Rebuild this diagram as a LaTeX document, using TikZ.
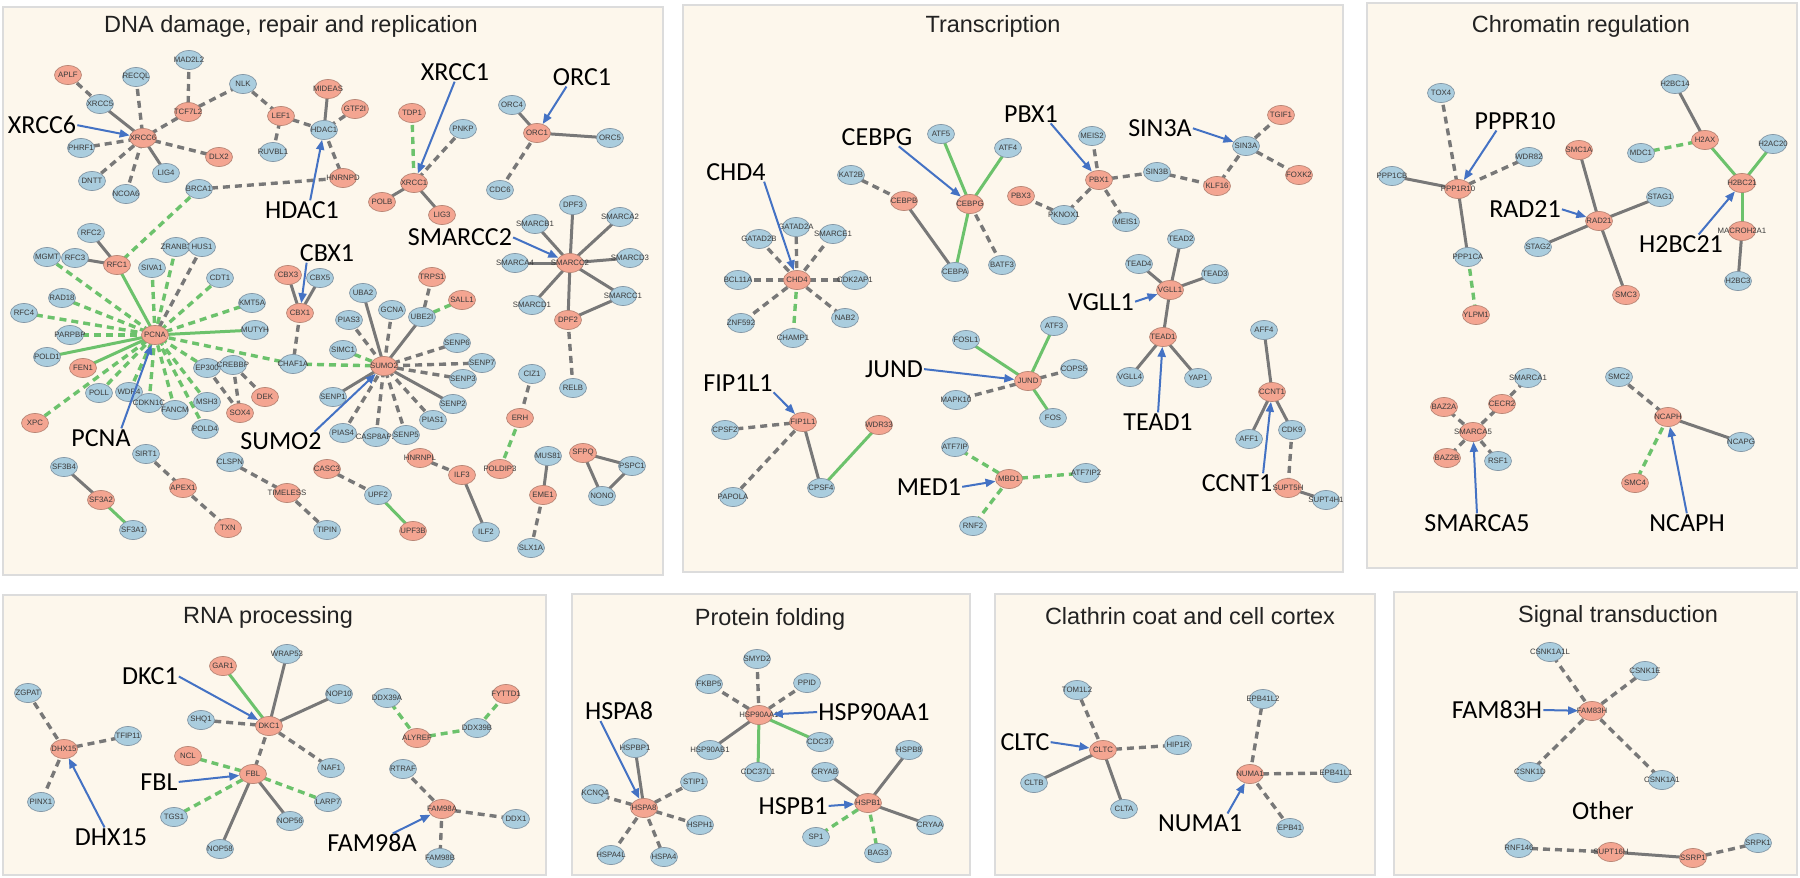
\documentclass[tikz,border=0pt]{standalone}
\usepackage{fontspec}
\setmainfont{Liberation Sans}
\newfontfamily\lblfont{Carlito}
\usetikzlibrary{shapes.geometric,arrows.meta}
\pgfdeclarelayer{bg}
\pgfdeclarelayer{edges}
\pgfsetlayers{bg,edges,main}
\definecolor{panelfill}{HTML}{FDF7EC}
\definecolor{panelline}{HTML}{DCDCDC}
\definecolor{bfill}{HTML}{AACDDE}
\definecolor{rfill}{HTML}{F4A591}
\definecolor{nline}{HTML}{8497A6}
\definecolor{rline}{HTML}{B88676}
\definecolor{ntext}{HTML}{3A3A3A}
\definecolor{egray}{HTML}{787878}
\definecolor{egreen}{HTML}{6CC26C}
\definecolor{ablue}{HTML}{4472C4}
\definecolor{titlec}{HTML}{222222}
\tikzset{
 bnode/.style={ellipse, draw=nline, line width=0.7pt, fill=bfill, minimum width=27pt, minimum height=19pt, inner sep=0pt, font=\fontsize{7.8}{8}\selectfont, text=ntext},
 rnode/.style={bnode, fill=rfill, draw=rline},
 grs/.style={draw=egray, line width=3pt},
 grd/.style={draw=egray, line width=3.4pt, dash pattern=on 7pt off 5pt},
 gns/.style={draw=egreen, line width=3pt},
 gnd/.style={draw=egreen, line width=3.4pt, dash pattern=on 7pt off 5pt},
 panel/.style={fill=panelfill, draw=panelline, line width=1.5pt},
 ptitle/.style={font=\fontsize{23.5}{26}\selectfont, text=titlec, anchor=base, inner sep=0pt},
 lab/.style={font=\lblfont\fontsize{26}{28}\selectfont, inner sep=0pt, text=black},
 larr/.style={draw=ablue, line width=2pt, -{Triangle[length=10pt,width=8pt]}, shorten <=1pt},
}
\newcommand{\nB}[2]{\node[bnode] (#1) at (#2) {\makebox[0pt]{#1}};}
\newcommand{\nR}[2]{\node[rnode] (#1) at (#2) {\makebox[0pt]{#1}};}
\newcommand{\eGS}[2]{\draw[grs] (#1.center) -- (#2.center);}
\newcommand{\eGD}[2]{\draw[grd] (#1.center) -- (#2.center);}
\newcommand{\eNS}[2]{\draw[gns] (#1.center) -- (#2.center);}
\newcommand{\eND}[2]{\draw[gnd] (#1.center) -- (#2.center);}
\begin{document}
\begin{tikzpicture}[x=1pt,y=-1pt]
\useasboundingbox (0,0) rectangle (1800,878);
\begin{pgfonlayer}{bg}
\fill[white] (0,0) rectangle (1800,878);
\draw[panel] (3,7) rectangle (663,575);
\draw[panel] (683,5) rectangle (1343,572);
\draw[panel] (1367,3) rectangle (1797,568);
\draw[panel] (3,595) rectangle (546,875);
\draw[panel] (572,594) rectangle (970,875);
\draw[panel] (995,594) rectangle (1375,875);
\draw[panel] (1394,592) rectangle (1797,875);
\end{pgfonlayer}
% titles
\node[ptitle] (tDNA) at (291,32) {DNA damage, repair and replication};
\node[ptitle] (tTR) at (993,32) {Transcription};
\node[ptitle] (tCH) at (1581,32) {Chromatin regulation};
\node[ptitle] (tRNA) at (268,623) {RNA processing};
\node[ptitle] (tPF) at (770,625) {Protein folding};
\node[ptitle] (tCL) at (1190,624) {Clathrin coat and cell cortex};
\node[ptitle] (tST) at (1618,622) {Signal transduction};
% ---------- DNA nodes
\nR{APLF}{68,75}
\nB{XRCC5}{100,104}
\nB{RECQL}{136,77}
\nB{MAD2L2}{189,60}
\nR{TCF7L2}{188,112}
\nB{NLK}{243,84}
\nR{LEF1}{281,116}
\nR{XRCC6}{143,138}
\nB{PHRF1}{81,148}
\nR{DLX2}{219,157}
\nB{RUVBL1}{273,152}
\nB{DNTT}{92,181}
\nB{LIG4}{166,173}
\nB{NCOA6}{126,194}
\nB{BRCA1}{199,189}
\nB{RFC2}{91,233}
\nB{ZRANB3}{176,247}
\nB{HUS1}{202,247}
\nR{MIDEAS}{328,89}
\nR{GTF2I}{355,109}
\nB{HDAC1}{324,130}
\nR{HNRNPD}{343,178}
\nR{TDP1}{412,113}
\nB{PNKP}{463,129}
\nR{XRCC1}{414,183}
\nR{POLB}{382,202}
\nR{LIG3}{442,215}
\nB{ORC4}{512,105}
\nR{ORC1}{537,133}
\nB{ORC5}{610,138}
\nB{CDC6}{500,190}
\nB{DPF3}{573,205}
\nB{SMARCB1}{535,224}
\nB{SMARCA2}{620,217}
\nB{SMARCA4}{515,263}
\nR{SMARCC2}{570,263}
\nB{SMARCD3}{630,258}
\nB{SMARCC1}{623,296}
\nB{SMARCD1}{532,305}
\nR{DPF2}{568,320}
\nB{RELB}{573,388}
\nB{MGMT}{47,257}
\nB{RFC3}{75,258}
\nR{RFC1}{117,265}
\nB{SIVA1}{152,268}
\nB{CDT1}{220,278}
\nB{RAD18}{62,298}
\nB{KMT5A}{252,303}
\nB{RFC4}{24,313}
\nB{PARPBP}{70,335}
\nR{PCNA}{155,335}
\nB{MUTYH}{255,330}
\nB{POLD1}{47,357}
\nR{FEN1}{83,368}
\nB{EP300}{207,368}
\nB{CREBBP}{233,365}
\nB{CHAF1A}{293,364}
\nB{POLL}{99,393}
\nB{WDR4}{129,392}
\nB{CDKN1C}{149,403}
\nB{FANCM}{175,410}
\nB{MSH3}{207,402}
\nR{DEK}{265,397}
\nR{SOX4}{240,413}
\nB{POLD4}{205,429}
\nR{XPC}{35,423}
\nB{SIRT1}{146,454}
\nB{CLSPN}{230,462}
\nB{SF3B4}{64,467}
\nR{APEX1}{183,488}
\nR{TIMELESS}{287,493}
\nR{SF3A2}{101,500}
\nB{SF3A1}{133,530}
\nR{TXN}{228,528}
\nB{TIPIN}{327,530}
\nR{CBX3}{288,275}
\nB{CBX5}{320,278}
\nR{CBX1}{300,313}
\nB{UBA2}{363,293}
\nR{TRPS1}{432,277}
\nR{SALL1}{462,300}
\nB{GCNA}{392,310}
\nB{PIAS3}{349,320}
\nB{UBE2I}{422,317}
\nB{SIMC1}{343,350}
\nB{SENP6}{457,343}
\nR{SUMO2}{384,366}
\nB{SENP7}{482,363}
\nB{SENP3}{463,379}
\nB{SENP1}{333,397}
\nB{SENP2}{453,404}
\nB{PIAS1}{433,420}
\nB{PIAS4}{343,433}
\nB{CASP8AP2}{376,437}
\nB{SENP5}{406,435}
\nB{CIZ1}{532,374}
\nR{ERH}{520,418}
\nR{HNRNPL}{420,458}
\nR{ILF3}{462,475}
\nR{POLDIP3}{500,469}
\nB{MUS81}{548,456}
\nR{EME1}{543,495}
\nB{SLX1A}{531,548}
\nR{CASC3}{327,469}
\nB{UPF2}{378,495}
\nR{UPF3B}{413,531}
\nB{ILF2}{486,532}
\nR{SFPQ}{583,453}
\nB{PSPC1}{632,466}
\nB{NONO}{602,496}
% ---------- Transcription nodes
\nB{KAT2B}{851,175}
\nB{GATAD2A}{796,227}
\nB{GATAD2B}{759,239}
\nB{SMARCE1}{833,234}
\nB{BCL11A}{738,280}
\nR{CHD4}{797,280}
\nB{CDK2AP1}{855,280}
\nB{ZNF592}{741,323}
\nB{NAB2}{845,318}
\nB{CHAMP1}{793,338}
\nR{FIP1L1}{803,422}
\nB{CPSF2}{725,430}
\nR{WDR33}{879,425}
\nB{CPSF4}{821,488}
\nB{PAPOLA}{733,497}
\nB{ATF5}{941,134}
\nB{ATF4}{1008,148}
\nR{CEBPB}{904,201}
\nR{CEBPG}{970,204}
\nB{CEBPA}{955,272}
\nB{BATF3}{1002,265}
\nB{MEIS2}{1092,136}
\nR{PBX1}{1099,180}
\nB{SIN3B}{1157,172}
\nR{PBX3}{1021,196}
\nB{PKNOX1}{1064,215}
\nB{MEIS1}{1126,222}
\nR{TGIF1}{1281,115}
\nB{SIN3A}{1246,146}
\nR{FOXK2}{1299,175}
\nR{KLF16}{1217,186}
\nB{TEAD2}{1181,239}
\nB{TEAD4}{1139,264}
\nB{TEAD3}{1215,274}
\nR{VGLL1}{1170,290}
\nR{TEAD1}{1163,337}
\nB{VGLL4}{1130,377}
\nB{YAP1}{1198,378}
\nB{FOSL1}{966,340}
\nB{ATF3}{1054,326}
\nB{COPS5}{1074,369}
\nR{JUND}{1028,381}
\nB{MAPK10}{956,400}
\nB{FOS}{1053,418}
\nB{ATF7IP}{955,447}
\nR{MBD1}{1009,479}
\nB{ATF7IP2}{1086,473}
\nB{RNF2}{973,526}
\nB{AFF4}{1264,330}
\nR{CCNT1}{1272,392}
\nB{AFF1}{1249,439}
\nB{CDK9}{1292,430}
\nR{SUPT5H}{1288,488}
\nB{SUPT4H1}{1326,500}
% ---------- Chromatin nodes
\nB{TOX4}{1441,93}
\nB{PPP1CB}{1392,176}
\nR{PPP1R10}{1458,189}
\nB{WDR82}{1529,157}
\nB{PPP1CA}{1468,257}
\nR{YLPM1}{1476,315}
\nR{SMC1A}{1579,150}
\nB{STAG1}{1660,197}
\nR{RAD21}{1599,221}
\nB{STAG2}{1538,247}
\nR{SMC3}{1626,295}
\nB{H2BC14}{1675,84}
\nB{MDC1}{1641,153}
\nR{H2AX}{1705,140}
\nB{H2AC20}{1773,144}
\nR{H2BC21}{1742,183}
\nR{MACROH2A1}{1742,231}
\nB{H2BC3}{1738,281}
\nR{BAZ2A}{1444,407}
\nR{SMARCA5}{1473,432}
\nR{BAZ2B}{1447,458}
\nB{RSF1}{1498,461}
\nR{CECR2}{1502,404}
\nB{SMARCA1}{1528,378}
\nB{SMC2}{1619,377}
\nR{NCAPH}{1668,417}
\nB{NCAPG}{1741,442}
\nR{SMC4}{1635,483}
% ---------- RNA nodes
\nB{ZGPAT}{28,693}
\nR{DHX15}{64,749}
\nB{TFIP11}{128,736}
\nB{PINX1}{41,802}
\nR{GAR1}{223,666}
\nB{WRAP53}{287,654}
\nB{NOP10}{339,694}
\nB{SHQ1}{201,720}
\nR{DKC1}{269,726}
\nR{NCL}{188,756}
\nR{FBL}{253,774}
\nB{NAF1}{331,768}
\nB{LARP7}{328,802}
\nB{TGS1}{174,817}
\nB{NOP56}{290,821}
\nB{NOP58}{220,849}
\nB{DDX39A}{387,698}
\nR{ALYREF}{417,738}
\nB{DDX39B}{477,728}
\nR{FYTTD1}{506,694}
\nB{RTRAF}{403,769}
\nR{FAM98A}{442,809}
\nB{FAM98B}{440,858}
\nB{DDX1}{516,819}
% ---------- Protein folding nodes
\nB{SMYD2}{757,659}
\nB{FKBP5}{709,684}
\nB{PPID}{807,683}
\nR{HSP90AA1}{759,715}
\nB{HSP90AB1}{710,750}
\nB{CDC37}{820,742}
\nB{CDC37L1}{758,772}
\nB{CRYAB}{825,772}
\nB{HSPBP1}{635,748}
\nB{STIP1}{694,782}
\nB{KCNQ4}{595,794}
\nR{HSPA8}{644,808}
\nB{HSPH1}{700,825}
\nB{HSPA4L}{611,855}
\nB{HSPA4}{664,857}
\nB{HSPB8}{909,750}
\nR{HSPB1}{868,803}
\nB{CRYAA}{930,825}
\nB{SP1}{816,837}
\nB{BAG3}{878,853}
% ---------- Clathrin nodes
\nB{TOM1L2}{1077,690}
\nR{CLTC}{1103,750}
\nB{HIP1R}{1178,745}
\nB{CLTB}{1034,783}
\nB{CLTA}{1124,809}
\nB{EPB41L2}{1263,699}
\nR{NUMA1}{1250,774}
\nB{EPB41L1}{1336,773}
\nB{EPB41}{1290,828}
% ---------- Signal nodes
\nB{CSNK1A1L}{1550,652}
\nB{CSNK1E}{1645,671}
\nR{FAM83H}{1592,711}
\nB{CSNK1D}{1530,772}
\nB{CSNK1A1}{1662,780}
\nB{RNF146}{1519,848}
\nR{SUPT16H}{1611,852}
\nR{SSRP1}{1693,858}
\nB{SRPK1}{1758,843}
% ---------- edges
\begin{pgfonlayer}{edges}
\eGD{APLF}{XRCC5} \eGS{XRCC5}{XRCC6} \eGD{RECQL}{XRCC6} \eGD{TCF7L2}{XRCC6}
\eGD{MAD2L2}{TCF7L2} \eGD{TCF7L2}{NLK} \eGD{NLK}{LEF1} \eGD{RUVBL1}{LEF1}
\eGD{LEF1}{HDAC1} \eGD{PHRF1}{XRCC6} \eGD{DLX2}{XRCC6} \eGS{LIG4}{XRCC6}
\eGD{DNTT}{XRCC6} \eGD{NCOA6}{XRCC6} \eGD{BRCA1}{HNRNPD} \eND{BRCA1}{RFC1}
\eGS{MIDEAS}{HDAC1} \eGD{GTF2I}{HDAC1} \eGD{HDAC1}{HNRNPD}
\eND{TDP1}{XRCC1} \eGD{PNKP}{XRCC1} \eGS{POLB}{XRCC1} \eGS{LIG3}{XRCC1}
\eGS{ORC4}{ORC1} \eGS{ORC1}{ORC5} \eGD{ORC1}{CDC6}
\eGS{SMARCB1}{SMARCC2} \eGS{DPF3}{SMARCC2} \eGS{SMARCA2}{SMARCC2} \eGS{SMARCA4}{SMARCC2}
\eGS{SMARCD3}{SMARCC2} \eGS{SMARCC1}{SMARCC2} \eGS{SMARCD1}{SMARCC2} \eGS{DPF2}{SMARCC2}
\eGS{SMARCC1}{DPF2} \eGD{DPF2}{RELB}
\eGS{RFC2}{RFC1} \eGS{RFC3}{RFC1} \eNS{RFC1}{PCNA}
\eND{MGMT}{PCNA} \eND{RAD18}{PCNA} \eND{RFC4}{PCNA} \eND{PARPBP}{PCNA} \eND{SIVA1}{PCNA}
\eND{ZRANB3}{PCNA} \eND{CDT1}{PCNA} \eND{KMT5A}{PCNA} \eND{CHAF1A}{PCNA} \eND{EP300}{PCNA}
\eND{POLL}{PCNA} \eND{WDR4}{PCNA} \eND{CDKN1C}{PCNA} \eND{FANCM}{PCNA} \eND{MSH3}{PCNA}
\eND{POLD4}{PCNA} \eND{XPC}{PCNA}
\eNS{POLD1}{PCNA} \eNS{FEN1}{PCNA} \eNS{MUTYH}{PCNA} \eGD{HUS1}{PCNA}
\eGD{EP300}{SOX4} \eGD{CREBBP}{SOX4} \eGD{CREBBP}{DEK}
\eGD{SIRT1}{APEX1} \eGD{APEX1}{TXN} \eGS{SF3B4}{SF3A2} \eNS{SF3A2}{SF3A1}
\eGD{CLSPN}{TIMELESS} \eGD{TIMELESS}{TIPIN}
\eGS{CBX3}{CBX1} \eGS{CBX5}{CBX1} \eGD{CBX1}{CHAF1A} \eND{CHAF1A}{SUMO2}
\eGS{UBA2}{SUMO2} \eGD{PIAS3}{SUMO2} \eGD{GCNA}{SUMO2} \eGS{UBE2I}{SUMO2} \eND{SIMC1}{SUMO2}
\eGD{SENP6}{SUMO2} \eGD{SENP7}{SUMO2} \eGD{SENP3}{SUMO2} \eGS{SENP2}{SUMO2} \eGD{PIAS1}{SUMO2}
\eGD{SENP5}{SUMO2} \eGD{CASP8AP2}{SUMO2} \eGD{PIAS4}{SUMO2} \eGS{SENP1}{SUMO2}
\eGD{TRPS1}{UBE2I} \eND{SALL1}{UBE2I}
\eGD{CIZ1}{ERH} \eND{ERH}{POLDIP3} \eGD{HNRNPL}{ILF3} \eGS{ILF3}{ILF2}
\eGS{MUS81}{EME1} \eGD{EME1}{SLX1A} \eGD{CASC3}{UPF2} \eNS{UPF2}{UPF3B}
\eGS{SFPQ}{PSPC1} \eGS{SFPQ}{NONO} \eGS{PSPC1}{NONO}
% transcription
\eGD{CHD4}{GATAD2A} \eGD{CHD4}{GATAD2B} \eGD{CHD4}{SMARCE1} \eGD{CHD4}{BCL11A}
\eGD{CHD4}{CDK2AP1} \eGD{CHD4}{ZNF592} \eGD{CHD4}{NAB2} \eND{CHD4}{CHAMP1}
\eGD{FIP1L1}{CPSF2} \eGD{FIP1L1}{PAPOLA} \eGS{FIP1L1}{CPSF4} \eNS{CPSF4}{WDR33}
\eGD{KAT2B}{CEBPB} \eGS{CEBPB}{CEBPA} \eNS{CEBPG}{ATF5} \eNS{CEBPG}{ATF4}
\eNS{CEBPG}{CEBPA} \eGD{CEBPG}{BATF3}
\eGD{PBX1}{MEIS2} \eGD{PBX1}{SIN3B} \eGD{PBX1}{MEIS1} \eGD{PBX1}{PKNOX1}
\eGD{PKNOX1}{PBX3} \eGD{SIN3B}{KLF16}
\eGD{SIN3A}{TGIF1} \eGD{SIN3A}{FOXK2} \eGD{SIN3A}{KLF16}
\eGS{VGLL1}{TEAD2} \eGS{VGLL1}{TEAD3} \eGS{VGLL1}{TEAD4} \eGS{VGLL1}{TEAD1}
\eGS{TEAD1}{VGLL4} \eGS{TEAD1}{YAP1}
\eNS{JUND}{FOSL1} \eNS{JUND}{ATF3} \eNS{JUND}{FOS} \eGD{JUND}{COPS5} \eGD{JUND}{MAPK10}
\eND{MBD1}{ATF7IP} \eND{MBD1}{ATF7IP2} \eND{MBD1}{RNF2}
\eGS{CCNT1}{AFF4} \eGS{CCNT1}{AFF1} \eGS{CCNT1}{CDK9} \eGD{CDK9}{SUPT5H} \eGS{SUPT5H}{SUPT4H1}
% chromatin
\eGD{TOX4}{PPP1R10} \eGS{PPP1CB}{PPP1R10} \eGS{PPP1R10}{PPP1CA} \eND{PPP1CA}{YLPM1}
\eGD{PPP1R10}{WDR82}
\eGS{RAD21}{SMC1A} \eGS{RAD21}{STAG1} \eGS{RAD21}{STAG2} \eGS{RAD21}{SMC3}
\eGS{H2BC14}{H2AX} \eND{MDC1}{H2AX} \eNS{H2AX}{H2BC21} \eNS{H2AC20}{H2BC21}
\eNS{H2BC21}{MACROH2A1} \eGS{MACROH2A1}{H2BC3}
\eGD{SMARCA5}{BAZ2A} \eGD{SMARCA5}{BAZ2B} \eGD{SMARCA5}{RSF1} \eGD{SMARCA5}{CECR2}
\eGD{CECR2}{SMARCA1}
\eGD{SMC2}{NCAPH} \eGS{NCAPH}{NCAPG} \eND{NCAPH}{SMC4}
% RNA
\eGD{DHX15}{ZGPAT} \eGD{DHX15}{TFIP11} \eGD{DHX15}{PINX1}
\eNS{DKC1}{GAR1} \eGS{DKC1}{WRAP53} \eGS{DKC1}{NOP10} \eGD{DKC1}{SHQ1} \eGD{DKC1}{NAF1}
\eGD{DKC1}{FBL}
\eND{FBL}{NCL} \eND{FBL}{LARP7} \eND{FBL}{TGS1} \eGS{FBL}{NOP56} \eGS{FBL}{NOP58}
\eND{ALYREF}{DDX39A} \eND{ALYREF}{DDX39B} \eND{DDX39B}{FYTTD1}
\eGD{FAM98A}{RTRAF} \eGD{FAM98A}{FAM98B} \eGD{FAM98A}{DDX1}
% protein folding
\eGD{HSP90AA1}{SMYD2} \eGD{HSP90AA1}{FKBP5} \eGD{HSP90AA1}{PPID} \eGS{HSP90AA1}{HSP90AB1}
\eNS{HSP90AA1}{CDC37} \eNS{HSP90AA1}{CDC37L1}
\eGS{HSPA8}{HSPBP1} \eGD{HSPA8}{STIP1} \eGD{HSPA8}{KCNQ4} \eGD{HSPA8}{HSPH1}
\eGD{HSPA8}{HSPA4L} \eGD{HSPA8}{HSPA4}
\eGS{HSPB1}{CRYAB} \eGS{HSPB1}{HSPB8} \eGS{HSPB1}{CRYAA} \eND{HSPB1}{SP1} \eND{HSPB1}{BAG3}
% clathrin
\eGD{CLTC}{TOM1L2} \eGD{CLTC}{HIP1R} \eGS{CLTC}{CLTB} \eGS{CLTC}{CLTA}
\eGD{NUMA1}{EPB41L2} \eGD{NUMA1}{EPB41L1} \eGD{NUMA1}{EPB41}
% signal
\eGD{FAM83H}{CSNK1A1L} \eGD{FAM83H}{CSNK1E} \eGD{FAM83H}{CSNK1D} \eGD{FAM83H}{CSNK1A1}
\eGD{RNF146}{SUPT16H} \eGS{SUPT16H}{SSRP1} \eGD{SSRP1}{SRPK1}
\end{pgfonlayer}
% ---------- labels
\node[lab] (lXRCC6) at (42,125) {XRCC6};
\node[lab] (lXRCC1) at (455,72) {XRCC1};
\node[lab] (lORC1) at (582,77) {ORC1};
\node[lab] (lHDAC1) at (302,210) {HDAC1};
\node[lab] (lSMARCC2) at (460,237) {SMARCC2};
\node[lab] (lCBX1) at (327,253) {CBX1};
\node[lab] (lPCNA) at (101,438) {PCNA};
\node[lab] (lSUMO2) at (281,441) {SUMO2};
\node[lab] (lCHD4) at (736,172) {CHD4};
\node[lab] (lCEBPG) at (877,137) {CEBPG};
\node[lab] (lPBX1) at (1031,114) {PBX1};
\node[lab] (lSIN3A) at (1160,128) {SIN3A};
\node[lab] (lVGLL1) at (1101,302) {VGLL1};
\node[lab] (lJUND) at (894,369) {JUND};
\node[lab] (lTEAD1) at (1158,422) {TEAD1};
\node[lab] (lFIP1L1) at (738,383) {FIP1L1};
\node[lab] (lMED1) at (929,487) {MED1};
\node[lab] (lCCNT1) at (1237,483) {CCNT1};
\node[lab] (lPPPR10) at (1515,121) {PPPR10};
\node[lab] (lRAD21) at (1525,209) {RAD21};
\node[lab] (lH2BC21) at (1681,244) {H2BC21};
\node[lab] (lSMARCA5) at (1477,523) {SMARCA5};
\node[lab] (lNCAPH) at (1687,523) {NCAPH};
\node[lab] (lDKC1) at (150,676) {DKC1};
\node[lab] (lFBL) at (159,782) {FBL};
\node[lab] (lDHX15) at (111,837) {DHX15};
\node[lab] (lFAM98A) at (372,843) {FAM98A};
\node[lab] (lHSPA8) at (619,711) {HSPA8};
\node[lab] (lHSP90AA1) at (874,712) {HSP90AA1};
\node[lab] (lHSPB1) at (793,806) {HSPB1};
\node[lab] (lCLTC) at (1025,742) {CLTC};
\node[lab] (lNUMA1) at (1200,823) {NUMA1};
\node[lab] (lFAM83H) at (1497,710) {FAM83H};
\node[lab] (lOther) at (1603,811) {Other};
% ---------- label arrows
\draw[larr] (lXRCC6.east) -- (XRCC6);
\draw[larr] (lXRCC1.south) -- (XRCC1);
\draw[larr] ([xshift=-15pt]lORC1.south) -- (ORC1);
\draw[larr] ([xshift=8pt]lHDAC1.north) -- (HDAC1);
\draw[larr] (lSMARCC2.east) -- (SMARCC2);
\draw[larr] ([xshift=7pt]lCBX1.south west) -- (CBX1);
\draw[larr] ([xshift=20pt]lPCNA.north) -- (PCNA);
\draw[larr] ([xshift=-8pt]lSUMO2.north east) -- (SUMO2);
\draw[larr] ([xshift=-2pt]lCHD4.south east) -- (CHD4);
\draw[larr] ([xshift=21pt]lCEBPG.south) -- (CEBPG);
\draw[larr] ([xshift=19pt]lPBX1.south) -- (PBX1);
\draw[larr] (lSIN3A.east) -- (SIN3A);
\draw[larr] (lVGLL1.east) -- (VGLL1);
\draw[larr] (lJUND.east) -- (JUND);
\draw[larr] (lTEAD1.north) -- (TEAD1);
\draw[larr] (lFIP1L1.south east) -- (FIP1L1);
\draw[larr] (lMED1.east) -- (MBD1);
\draw[larr] ([xshift=26pt]lCCNT1.north) -- (CCNT1);
\draw[larr] ([xshift=-18pt]lPPPR10.south) -- (PPP1R10);
\draw[larr] (lRAD21.east) -- (RAD21);
\draw[larr] ([xshift=17pt]lH2BC21.north) -- (H2BC21);
\draw[larr] (lSMARCA5.north) -- (SMARCA5);
\draw[larr] (lNCAPH.north) -- (NCAPH);
\draw[larr] (lDKC1.east) -- (DKC1);
\draw[larr] (lFBL.east) -- (FBL);
\draw[larr] ([xshift=-6pt]lDHX15.north) -- (DHX15);
\draw[larr] ([xshift=20pt]lFAM98A.north) -- (FAM98A);
\draw[larr] ([xshift=-19pt]lHSPA8.south) -- (HSPA8);
\draw[larr] (lHSP90AA1.west) -- (HSP90AA1);
\draw[larr] (lHSPB1.east) -- (HSPB1);
\draw[larr] (lCLTC.east) -- (CLTC);
\draw[larr] ([xshift=27pt]lNUMA1.north) -- (NUMA1);
\draw[larr] (lFAM83H.east) -- (FAM83H);
\end{tikzpicture}
\end{document}
